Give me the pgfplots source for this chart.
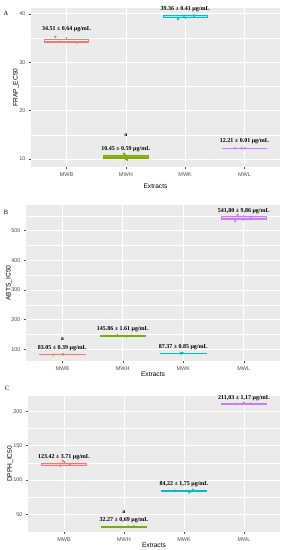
\documentclass[border=0pt]{standalone}
\usepackage{fontspec}
\setmainfont{Liberation Sans}
\newfontfamily\serifb{Liberation Serif}
\usepackage{pgfplots}
\usepgfplotslibrary{statistics}
\pgfplotsset{compat=1.18}
\definecolor{ggbg}{HTML}{EBEBEB}
\definecolor{ggred}{HTML}{F8766D}
\definecolor{gggreen}{HTML}{7CAE00}
\definecolor{ggcyan}{HTML}{00BFC4}
\definecolor{ggpurple}{HTML}{C77CFF}
\definecolor{ggtick}{HTML}{4D4D4D}
\newcommand{\ann}{\serifb\bfseries\fontsize{6}{7}\selectfont}
\newcommand{\labf}{\fontsize{6.6}{8}\selectfont}
\pgfplotsset{
  ggbase/.style={
    scale only axis, clip=false,
    boxplot/draw direction=y,
    axis background/.style={fill=ggbg},
    axis line style={draw=none},
    xmin=0.4, xmax=4.6,
    xtick={1,2,3,4}, xticklabels={MWB,MWH,MWK,MWL},
    xmajorgrids, ymajorgrids, yminorgrids,
    grid style={white, line width=0.7pt},
    minor grid style={white, line width=0.35pt},
    tick align=outside, major tick length=2pt, minor tick length=0pt,
    major tick style={ggtick, line width=0.4pt},
    xtick pos=lower, ytick pos=left,
    tick label style={font=\fontsize{5.5}{6}\selectfont, text=ggtick},
    /pgf/number format/assume math mode=true,
    xlabel={Extracts},
  },
  bx/.style={solid, line width=0.8pt, draw=#1, fill=#1!35, mark=none},
  pts/.style={only marks, mark=*, mark size=1pt, color=#1},
}
\begin{document}
\begin{tikzpicture}
\path[use as bounding box] (0,0) rectangle (285pt,550pt);
% Panel letters
\node[font=\serifb\fontsize{6.5}{7}\selectfont] at (6pt,537pt) {A};
\node[font=\serifb\fontsize{6.5}{7}\selectfont] at (6pt,338pt) {B};
\node[font=\serifb\fontsize{6.5}{7}\selectfont] at (7pt,162pt) {C};
%%%%%%%%%%%%%%%% A
\begin{axis}[ggbase, at={(31pt,383pt)}, anchor=south west, width=249pt, height=159pt,
  ymin=8.35, ymax=41.2, ytick={10,20,30,40}, minor ytick={15,25,35},
  ylabel={FRAP\_EC50},
  every axis y label/.style={at={(axis description cs:-0.06,0.5)}, rotate=90, anchor=center, font=\labf},
  every axis x label/.style={at={(axis description cs:0.5,0)}, anchor=center, yshift=-19pt, font=\labf}]
\addplot[bx=ggred, fill=white, boxplot prepared={draw position=1, lower whisker=34.05, lower quartile=34.125, median=34.2, upper quartile=34.725, upper whisker=35.25, box extend=0.75, whisker extend=0}] coordinates {};
\addplot[bx=gggreen, fill=gggreen!85, boxplot prepared={draw position=2, lower whisker=9.85, lower quartile=10.125, median=10.4, upper quartile=10.75, upper whisker=11.1, box extend=0.75, whisker extend=0}] coordinates {};
\addplot[bx=ggcyan, boxplot prepared={draw position=3, lower whisker=38.9, lower quartile=39.25, median=39.6, upper quartile=39.6, upper whisker=39.6, box extend=0.75, whisker extend=0}] coordinates {};
\addplot[bx=ggpurple, boxplot prepared={draw position=4, lower whisker=12.2, lower quartile=12.205, median=12.21, upper quartile=12.215, upper whisker=12.22, box extend=0.75, whisker extend=0}] coordinates {};
\addplot[pts=ggred] coordinates {(0.81,35.25) (0.90,34.2) (1.17,34.05)};
\addplot[pts=gggreen] coordinates {(1.97,11.1) (2.0,10.4) (2.02,9.85)};
\addplot[pts=ggcyan] coordinates {(2.88,38.9) (2.98,39.6) (3.15,39.6)};
\addplot[pts=ggpurple] coordinates {(3.84,12.2) (3.95,12.21) (4.0,12.22)};
\node[font=\ann] at (axis cs:1,36.8) {34.51 ± 0.64 μg/mL};
\node[font=\ann] at (axis cs:2,15.0) {a};
\node[font=\ann] at (axis cs:2,12.1) {10.45 ± 0.59 μg/mL};
\node[font=\ann] at (axis cs:3,41.0) {39.36 ± 0.41 μg/mL};
\node[font=\ann] at (axis cs:4,13.6) {12.21 ± 0.01 μg/mL};
\end{axis}
%%%%%%%%%%%%%%%% B
\begin{axis}[ggbase, at={(26pt,189pt)}, anchor=south west, width=254pt, height=156pt,
  ymin=61, ymax=586, ytick={100,200,300,400,500}, minor ytick={150,250,350,450,550},
  ylabel={ABTS\_IC50},
  every axis y label/.style={at={(axis description cs:-0.067,0.5)}, rotate=90, anchor=center, font=\labf},
  every axis x label/.style={at={(axis description cs:0.5,0)}, anchor=center, yshift=-13pt, font=\labf}]
\addplot[bx=ggred, boxplot prepared={draw position=1, lower whisker=82.6, lower quartile=82.9, median=83.2, upper quartile=83.28, upper whisker=83.35, box extend=0.75, whisker extend=0}] coordinates {};
\addplot[bx=gggreen, boxplot prepared={draw position=2, lower whisker=144.0, lower quartile=145.05, median=146.1, upper quartile=146.8, upper whisker=147.5, box extend=0.75, whisker extend=0}] coordinates {};
\addplot[bx=ggcyan, boxplot prepared={draw position=3, lower whisker=86.5, lower quartile=86.95, median=87.4, upper quartile=87.8, upper whisker=88.2, box extend=0.75, whisker extend=0}] coordinates {};
\addplot[bx=ggpurple, boxplot prepared={draw position=4, lower whisker=531.5, lower quartile=536.7, median=541.9, upper quartile=547.0, upper whisker=552.0, box extend=0.75, whisker extend=0}] coordinates {};
\addplot[pts=ggred] coordinates {(0.85,82.6) (1.0,83.2) (1.02,83.35)};
\addplot[pts=gggreen] coordinates {(1.91,147.5) (2.06,144.0) (2.15,146.1)};
\addplot[pts=ggcyan] coordinates {(2.96,86.5) (2.97,87.4) (2.99,88.2)};
\addplot[pts=ggpurple] coordinates {(3.9,552.0) (3.86,531.5) (4.12,541.9)};
\node[font=\ann] at (axis cs:1,134.7) {a};
\node[font=\ann] at (axis cs:1,105.4) {83.05 ± 0.39 μg/mL};
\node[font=\ann] at (axis cs:2,167) {145.86 ± 1.61 μg/mL};
\node[font=\ann] at (axis cs:3,109) {87.37 ± 0.85 μg/mL};
\node[font=\ann] at (axis cs:4,566) {541,80 ± 9,86 μg/mL};
\end{axis}
%%%%%%%%%%%%%%%% C
\begin{axis}[ggbase, at={(28pt,18pt)}, anchor=south west, width=252pt, height=136pt,
  ymin=24.6, ymax=222, ytick={50,100,150,200}, minor ytick={25,75,125,175},
  ylabel={DPPH\_IC50},
  every axis y label/.style={at={(axis description cs:-0.071,0.5)}, rotate=90, anchor=center, font=\labf},
  every axis x label/.style={at={(axis description cs:0.5,0)}, anchor=center, yshift=-13pt, font=\labf}]
\addplot[bx=ggred, boxplot prepared={draw position=1, lower whisker=120.8, lower quartile=121.3, median=121.8, upper quartile=124.75, upper whisker=127.7, box extend=0.75, whisker extend=0}] coordinates {};
\addplot[bx=gggreen, boxplot prepared={draw position=2, lower whisker=31.5, lower quartile=31.95, median=32.4, upper quartile=32.65, upper whisker=32.9, box extend=0.75, whisker extend=0}] coordinates {};
\addplot[bx=ggcyan, boxplot prepared={draw position=3, lower whisker=82.2, lower quartile=83.45, median=84.7, upper quartile=85.25, upper whisker=85.8, box extend=0.75, whisker extend=0}] coordinates {};
\addplot[bx=ggpurple, boxplot prepared={draw position=4, lower whisker=210.0, lower quartile=210.4, median=210.8, upper quartile=211.55, upper whisker=212.3, box extend=0.75, whisker extend=0}] coordinates {};
\addplot[pts=ggred] coordinates {(0.98,127.7) (0.94,120.8) (1.1,121.8)};
\addplot[pts=gggreen] coordinates {(2.07,32.4) (2.16,32.9) (1.95,31.5)};
\addplot[pts=ggcyan] coordinates {(2.85,84.7) (3.09,82.2) (3.15,85.8)};
\addplot[pts=ggpurple] coordinates {(3.86,210.0) (4.0,212.3) (4.1,210.8)};
\node[font=\ann] at (axis cs:1,133.6) {123.42 ± 3.71 μg/mL};
\node[font=\ann] at (axis cs:2,53.8) {a};
\node[font=\ann] at (axis cs:2,41.3) {32.27 ± 0,69 μg/mL};
\node[font=\ann] at (axis cs:3,94.4) {84,22 ± 1,75 μg/mL};
\node[font=\ann] at (axis cs:4,218.4) {211,03 ± 1,17 μg/mL};
\end{axis}
\end{tikzpicture}
\end{document}
